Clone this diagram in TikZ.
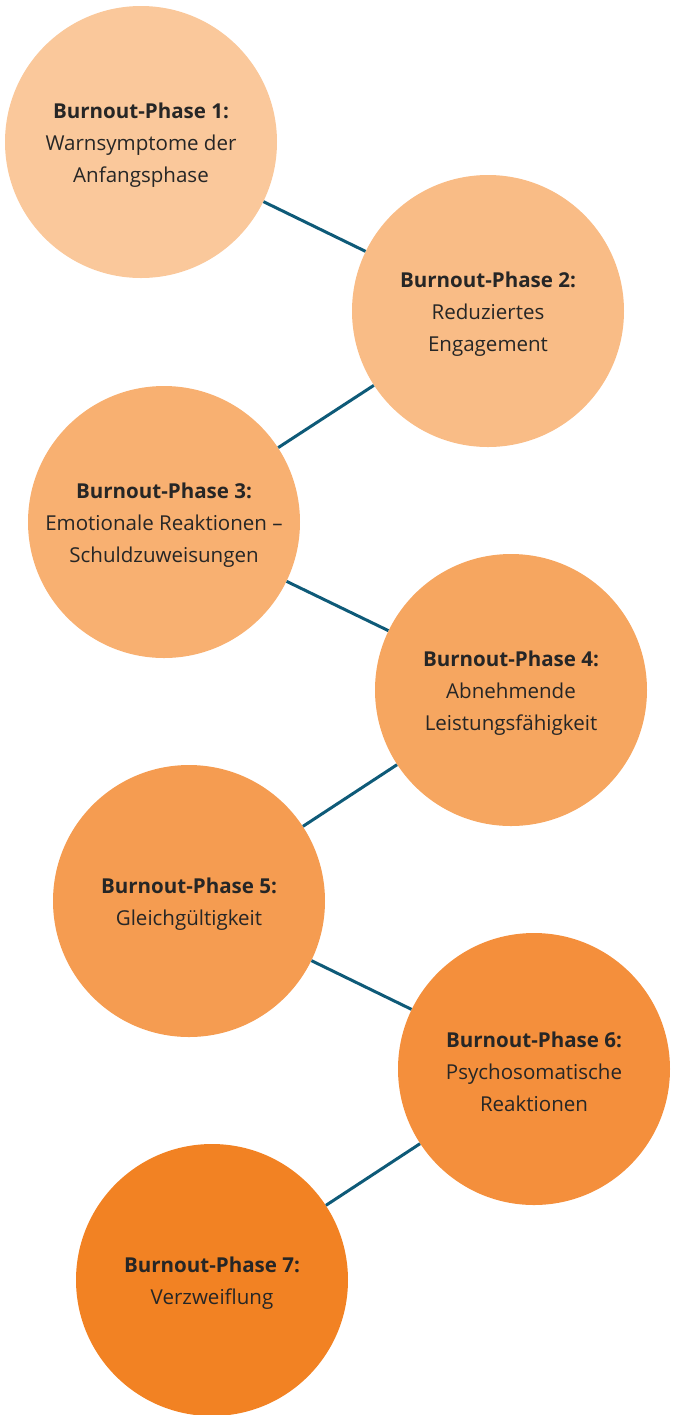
\documentclass[tikz,border=0pt]{standalone}
\usepackage{fontspec}
\setmainfont{Open Sans}
\usepackage{tikz}
\usetikzlibrary{calc, shapes, backgrounds}

\definecolor{phaseA}{HTML}{FAC89B}
\definecolor{phaseB}{HTML}{F9BC86}
\definecolor{phaseC}{HTML}{F8B071}
\definecolor{phaseD}{HTML}{F6A660}
\definecolor{phaseE}{HTML}{F59C51}
\definecolor{phaseF}{HTML}{F48F3C}
\definecolor{phaseG}{HTML}{F28223}
\definecolor{linkline}{HTML}{0E5A78}
\definecolor{inktext}{HTML}{262626}

\begin{document}
\begin{tikzpicture}[x=0.75pt, y=-0.75pt,
        phase/.style = {shape=circle, draw=none, minimum size=204pt, inner sep=0pt},
        phasetext/.style = {align=center, text=inktext, yshift=-2pt, font=\fontsize{15.4}{24}\selectfont},
        link/.style = {draw=linkline, line width=2.25pt}]
        \useasboundingbox (0,0) rectangle (675,1415);
        % phases
        \node [phase, fill=phaseA, label={[phasetext]center:{\textbf{Burnout-Phase 1:}\\ Warnsymptome der\\ Anfangsphase}}] (p1) at (141,142) {};
        \node [phase, fill=phaseB, label={[phasetext]center:{\textbf{Burnout-Phase 2:}\\ Reduziertes\\ Engagement}}] (p2) at (488,311) {};
        \node [phase, fill=phaseC, label={[phasetext]center:{\textbf{Burnout-Phase 3:}\\ Emotionale Reaktionen --\\ Schuldzuweisungen}}] (p3) at (164,522) {};
        \node [phase, fill=phaseD, label={[phasetext]center:{\textbf{Burnout-Phase 4:}\\ Abnehmende\\ Leistungsfähigkeit}}] (p4) at (511,690) {};
        \node [phase, fill=phaseE, label={[phasetext]center:{\textbf{Burnout-Phase 5:}\\ Gleichgültigkeit}}] (p5) at (189,901) {};
        \node [phase, fill=phaseF, label={[phasetext]center:{\textbf{Burnout-Phase 6:}\\ Psychosomatische\\ Reaktionen}}] (p6) at (534,1069) {};
        \node [phase, fill=phaseG, label={[phasetext]center:{\textbf{Burnout-Phase 7:}\\ Verzweiflung}}] (p7) at (212,1280) {};
        % connections
        \draw [link] (p1) -- (p2);
        \draw [link] (p2) -- (p3);
        \draw [link] (p3) -- (p4);
        \draw [link] (p4) -- (p5);
        \draw [link] (p5) -- (p6);
        \draw [link] (p6) -- (p7);
\end{tikzpicture}
\end{document}
